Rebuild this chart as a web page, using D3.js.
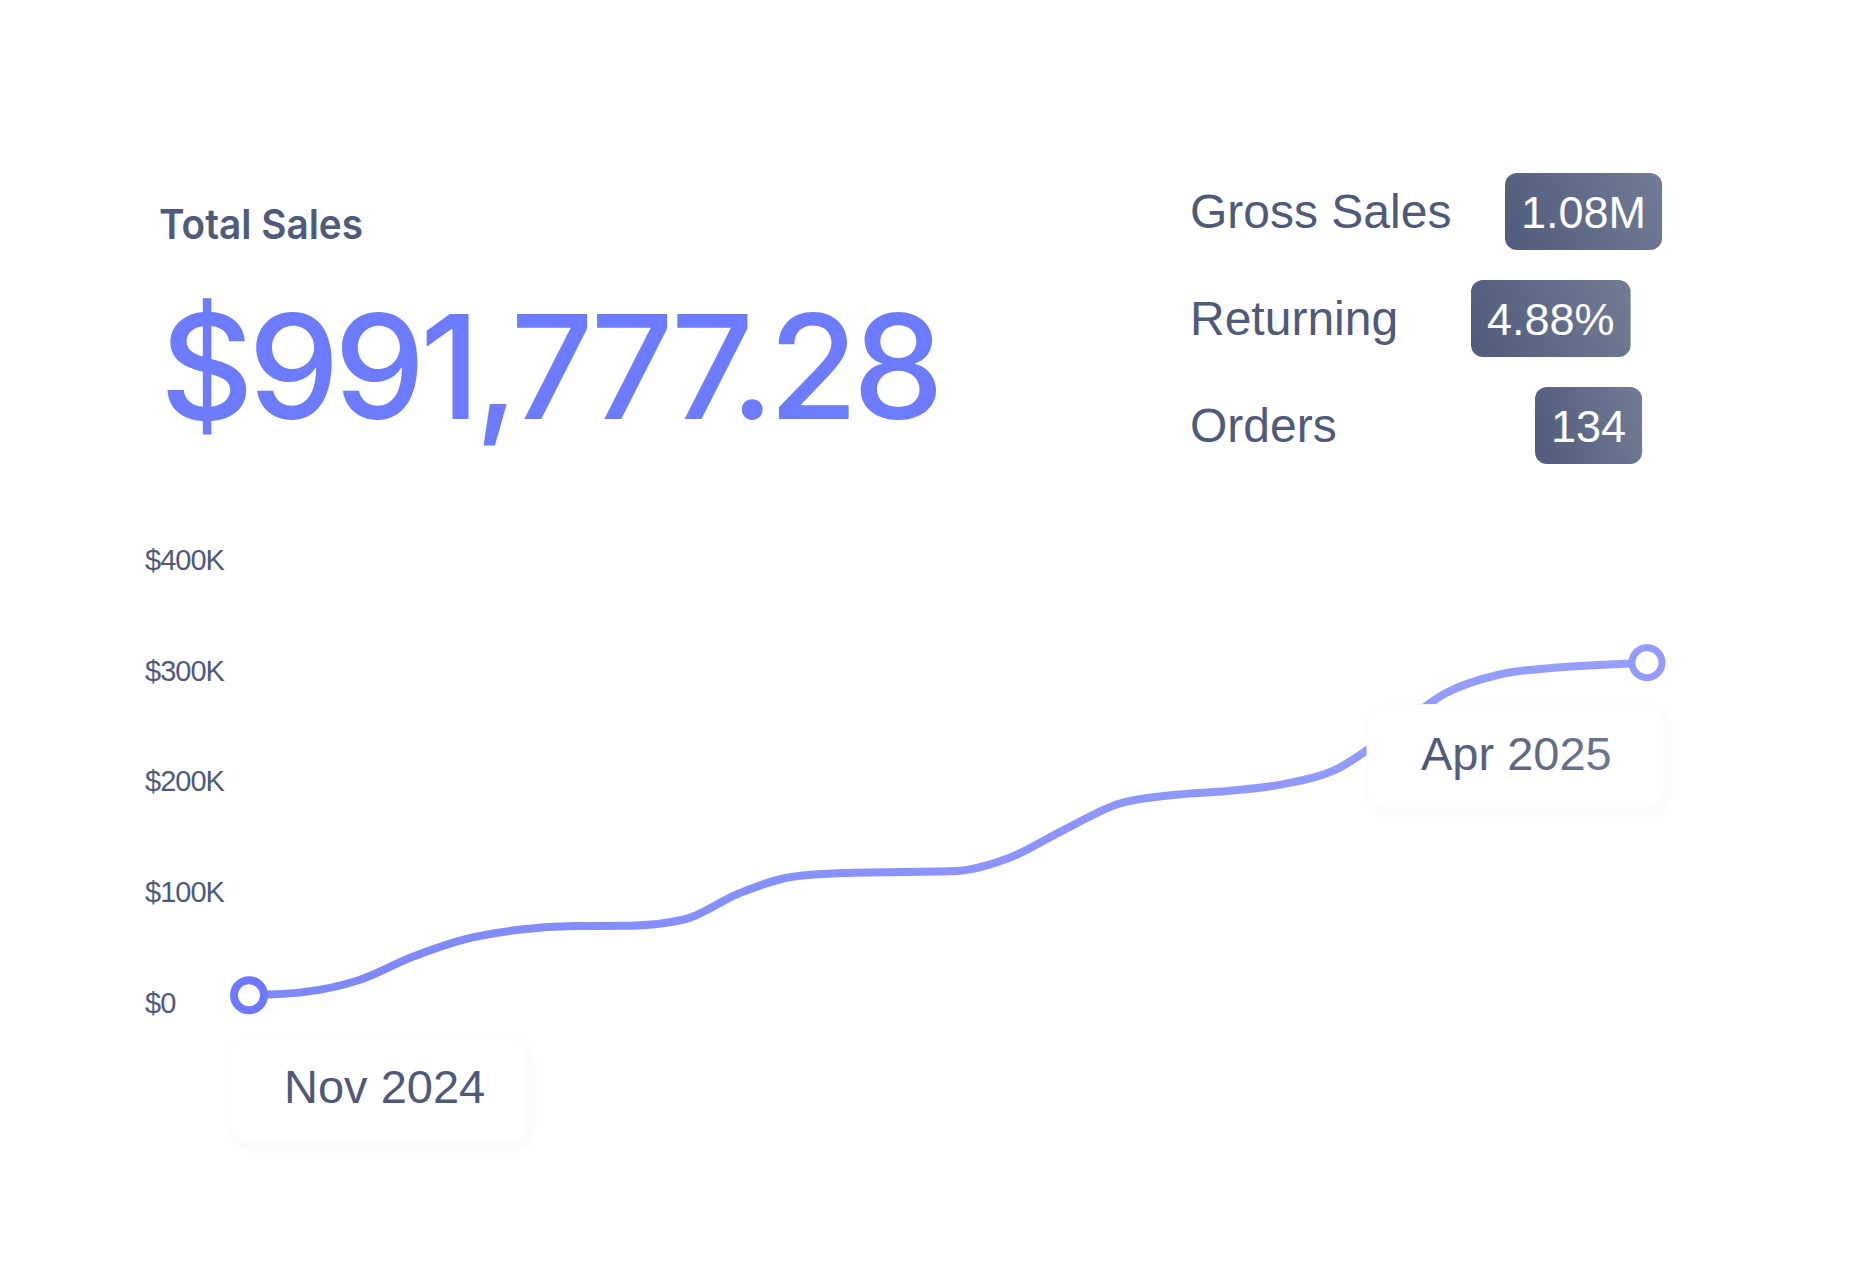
<!DOCTYPE html>
<html>
<head>
<meta charset="utf-8">
<script src="https://cdn.jsdelivr.net/npm/d3@7/dist/d3.min.js"></script>
<style>
  html, body { margin: 0; padding: 0; background: #ffffff; }
  svg { display: block; }
</style>
</head>
<body>
<div id="chart"></div>
<script>
// ---------- data ----------
const dates = ["2024-11-01","2024-11-08","2024-11-15","2024-11-22","2024-11-29",
  "2024-12-06","2024-12-13","2024-12-20","2024-12-27","2025-01-03","2025-01-10",
  "2025-01-17","2025-01-24","2025-01-31","2025-02-07","2025-02-14","2025-02-21",
  "2025-02-28","2025-03-07","2025-03-14","2025-03-21","2025-03-28","2025-04-04",
  "2025-04-11","2025-04-18","2025-04-25","2025-04-30"];
const sales = [7000, 9800, 20300, 41500, 57900, 66300, 69500, 69800, 75400, 98700,
  114000, 117400, 118300, 119200, 131400, 156600, 179900, 187800, 191400, 197400,
  211000, 243800, 279500, 296600, 302700, 305600, 307300];
const yTicks = [0, 100000, 200000, 300000, 400000];
const title = "Total Sales";
const totalValue = "$991,777.28";
const metricLabels = ["Gross Sales", "Returning", "Orders"];
const metricValues = ["1.08M", "4.88%", "134"];
const startLabel = "Nov 2024";
const endLabel = "Apr 2025";

// ---------- setup ----------
const W = 1860, H = 1282;
const svg = d3.select("#chart").append("svg").attr("width", W).attr("height", H);
const defs = svg.append("defs");

const badgeGrad = defs.append("linearGradient").attr("id", "badgeGrad")
  .attr("x1", "0%").attr("y1", "60%").attr("x2", "100%").attr("y2", "40%");
badgeGrad.append("stop").attr("offset", "0%").attr("stop-color", "#525d7d");
badgeGrad.append("stop").attr("offset", "100%").attr("stop-color", "#707a94");

const lineGrad = defs.append("linearGradient").attr("id", "lineGrad")
  .attr("gradientUnits", "userSpaceOnUse").attr("x1", 249).attr("x2", 1647).attr("y1", 0).attr("y2", 0);
lineGrad.append("stop").attr("offset", "0%").attr("stop-color", "#7d87ff");
lineGrad.append("stop").attr("offset", "100%").attr("stop-color", "#979fff");

const aprGrad = defs.append("linearGradient").attr("id", "aprGrad")
  .attr("x1", "0%").attr("x2", "100%");
aprGrad.append("stop").attr("offset", "0%").attr("stop-color", "#4c577a");
aprGrad.append("stop").attr("offset", "100%").attr("stop-color", "#6c7690");

const shadow = defs.append("filter").attr("id", "softShadow")
  .attr("x", "-20%").attr("y", "-30%").attr("width", "140%").attr("height", "170%");
shadow.append("feDropShadow").attr("dx", 3).attr("dy", 5).attr("stdDeviation", 5)
  .attr("flood-color", "#5a6480").attr("flood-opacity", 0.035);

// ---------- header ----------
svg.append("text").attr("x", 159).attr("y", 239)
  .attr("font-family", "Inter, 'Noto Sans', sans-serif").attr("font-weight", 600)
  .attr("font-size", 41).attr("fill", "#4f5b7b")
  .attr("textLength", 204).attr("lengthAdjust", "spacingAndGlyphs")
  .text(title);

svg.append("text").attr("x", 160).attr("y", 419)
  .attr("font-family", "Inter, 'Noto Sans', sans-serif").attr("font-weight", 500)
  .attr("font-size", 145).attr("fill", "#6c7bff")
  .attr("textLength", 784).attr("lengthAdjust", "spacing")
  .text(totalValue);

// ---------- metrics ----------
const rowBaselines = [228, 335, 442];
const badgeLefts = [1505, 1471, 1535];
metricLabels.forEach((lab, i) => {
  svg.append("text").attr("x", 1190).attr("y", rowBaselines[i])
    .attr("font-family", "'Liberation Sans', Arial, sans-serif")
    .attr("font-size", 48).attr("fill", "#4f5a7b").text(lab);
  const g = svg.append("g");
  const rect = g.append("rect").attr("x", badgeLefts[i]).attr("y", rowBaselines[i] - 55)
    .attr("height", 77).attr("rx", 12).attr("ry", 12).attr("fill", "url(#badgeGrad)");
  const t = g.append("text").attr("x", badgeLefts[i] + 16).attr("y", rowBaselines[i])
    .attr("font-family", "'Liberation Sans', Arial, sans-serif")
    .attr("font-size", 45).attr("fill", "#ffffff").text(metricValues[i]);
  const tw = t.node().getComputedTextLength();
  rect.attr("width", tw + 32);
});

// ---------- chart ----------
const parse = d3.timeParse("%Y-%m-%d");
const data = dates.map((d, i) => ({ date: parse(d), value: sales[i] }));

const x = d3.scaleTime().domain(d3.extent(data, d => d.date)).range([249, 1647]);
const y = d3.scaleLinear().domain([0, 400000]).range([1003, 560]);

const yAxis = d3.axisLeft(y).tickValues(yTicks).tickSize(0).tickPadding(0)
  .tickFormat(v => v === 0 ? "$0" : "$" + d3.format("d")(v / 1000) + "K");
const ag = svg.append("g").attr("transform", "translate(145,0)").call(yAxis);
ag.select(".domain").remove();
ag.selectAll("text").attr("text-anchor", "start").attr("x", 0)
  .attr("font-family", "'Liberation Sans', Arial, sans-serif")
  .attr("font-size", 29).attr("letter-spacing", -1).attr("fill", "#4f5a7b");

const line = d3.line().x(d => x(d.date)).y(d => y(d.value)).curve(d3.curveMonotoneX);
svg.append("path").datum(data).attr("d", line)
  .attr("fill", "none").attr("stroke", "url(#lineGrad)").attr("stroke-width", 8)
  .attr("stroke-linecap", "round");

// endpoint label boxes
const first = data[0], last = data[data.length - 1];
const boxes = [
  { text: startLabel, bx: x(first.date) - 19, by: y(first.value) + 43, fill: "#4f5a7b" },
  { text: endLabel, bx: x(last.date) - 280, by: y(last.value) + 42, fill: "url(#aprGrad)" }
];
boxes.forEach(b => {
  svg.append("rect").attr("x", b.bx).attr("y", b.by).attr("width", 297).attr("height", 103)
    .attr("rx", 16).attr("fill", "#ffffff").attr("stroke", "#fafbfc").attr("stroke-width", 1)
    .attr("filter", "url(#softShadow)");
  svg.append("text").attr("x", b.bx + 54).attr("y", b.by + 65)
    .attr("font-family", "'Liberation Sans', Arial, sans-serif")
    .attr("font-size", 47).attr("fill", b.fill).text(b.text);
});

// endpoint markers
svg.append("circle").attr("cx", x(first.date)).attr("cy", y(first.value)).attr("r", 15)
  .attr("fill", "#ffffff").attr("stroke", "#6d7aff").attr("stroke-width", 8);
svg.append("circle").attr("cx", x(last.date)).attr("cy", y(last.value)).attr("r", 15)
  .attr("fill", "#ffffff").attr("stroke", "#939bff").attr("stroke-width", 7);
</script>
</body>
</html>
